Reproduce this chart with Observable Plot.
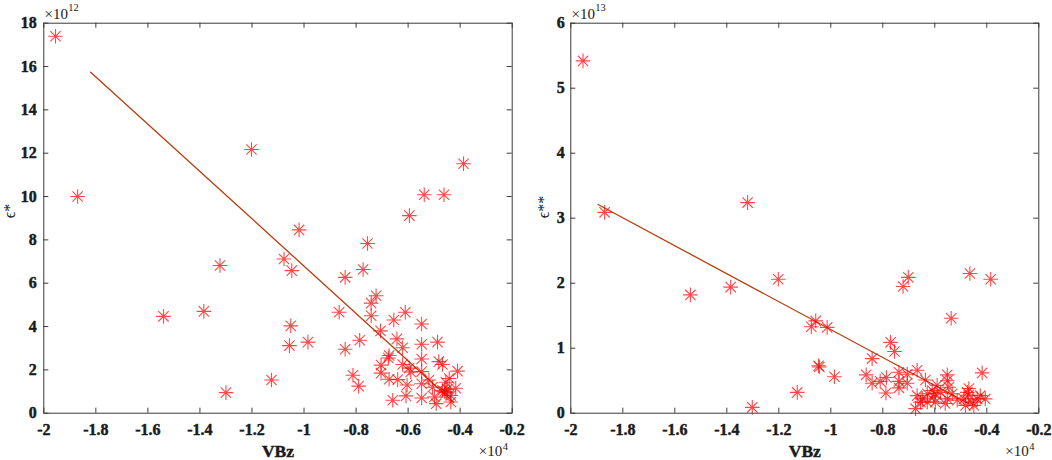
<!DOCTYPE html>
<html>
<head>
<meta charset="utf-8">
<script src="https://cdn.jsdelivr.net/npm/d3@7"></script>
<script src="https://cdn.jsdelivr.net/npm/@observablehq/plot@0.6"></script>
<style>
  html, body { margin: 0; padding: 0; background: #fff; }
  #wrap { display: flex; width: 1052px; height: 460px; }
</style>
</head>
<body>
<div id="wrap"></div>
<script>
// ---- data (VBz in units of 1e4, epsilon in units of 1e12 / 1e13) ----
const xTicks = [-2, -1.8, -1.6, -1.4, -1.2, -1, -0.8, -0.6, -0.4, -0.2];
const xTickLabels = ["-2", "-1.8", "-1.6", "-1.4", "-1.2", "-1", "-0.8", "-0.6", "-0.4", "-0.2"];
const leftYTicks = [0, 2, 4, 6, 8, 10, 12, 14, 16, 18];
const rightYTicks = [0, 1, 2, 3, 4, 5, 6];

const leftVBz = [-1.955,-1.870,-1.540,-1.385,-1.323,-1.300,-1.202,-1.125,-1.077,-1.047,-1.051,-1.056,-1.019,-0.985,-0.865,-0.842,-0.842,-0.812,-0.790,-0.786,-0.773,-0.756,-0.742,-0.742,-0.723,-0.706,-0.704,-0.704,-0.673,-0.676,-0.673,-0.655,-0.659,-0.643,-0.640,-0.621,-0.621,-0.611,-0.608,-0.604,-0.596,-0.590,-0.548,-0.548,-0.548,-0.548,-0.548,-0.548,-0.520,-0.506,-0.499,-0.492,-0.487,-0.482,-0.468,-0.468,-0.460,-0.455,-0.455,-0.450,-0.442,-0.436,-0.436,-0.417,-0.410,-0.595,-0.538,-0.462,-0.387];
const leftEps = [17.40,10.00,4.47,4.70,6.82,0.95,12.17,1.53,7.12,6.58,4.03,3.12,8.46,3.28,4.66,6.27,2.95,1.75,1.25,3.37,6.63,7.83,5.08,4.50,5.42,3.80,2.22,1.85,2.66,2.55,1.57,4.30,0.60,3.43,1.55,3.02,2.25,4.66,0.80,1.30,2.08,1.90,4.12,3.18,2.50,1.92,1.36,0.70,1.53,1.20,0.75,0.44,3.28,2.38,2.25,1.05,1.00,0.95,1.43,1.10,1.60,0.82,0.52,1.15,1.94,9.12,10.08,10.08,11.51];
const leftFitVBz = [-1.820, -0.425];
const leftFitEps = [15.74, 0.51];

const rightVBz = [-1.953,-1.870,-1.540,-1.385,-1.320,-1.302,-1.202,-1.129,-1.075,-1.058,-1.047,-1.044,-1.014,-0.986,-0.864,-0.841,-0.841,-0.810,-0.786,-0.788,-0.770,-0.755,-0.738,-0.738,-0.738,-0.722,-0.702,-0.706,-0.706,-0.668,-0.668,-0.674,-0.648,-0.636,-0.629,-0.629,-0.655,-0.610,-0.604,-0.598,-0.591,-0.578,-0.600,-0.552,-0.552,-0.546,-0.552,-0.560,-0.537,-0.533,-0.514,-0.488,-0.475,-0.469,-0.470,-0.482,-0.465,-0.456,-0.450,-0.437,-0.425,-0.418,-0.406,-0.385];
const rightEps = [5.42,3.09,1.82,1.94,3.24,0.09,2.06,0.32,1.33,1.42,0.73,0.71,1.32,0.56,0.59,0.84,0.46,0.49,0.55,0.31,1.09,0.95,0.63,0.49,0.39,1.95,2.09,0.60,0.46,0.66,0.27,0.07,0.22,0.51,0.30,0.17,0.17,0.35,0.25,0.17,0.43,0.32,0.30,0.59,0.50,0.40,0.22,0.15,1.46,0.30,0.20,0.22,0.32,0.38,0.28,0.12,2.15,0.17,0.12,0.22,0.27,0.62,0.22,2.06];
const rightFitVBz = [-1.895, -0.469];
const rightFitEps = [3.21, 0.145];

// ---- custom MATLAB-like asterisk marker ----
const asterisk = {
  draw(ctx, size) {
    const r = Math.sqrt(size / Math.PI);
    const d = r * Math.SQRT1_2;
    ctx.moveTo(-r, 0); ctx.lineTo(r, 0);
    ctx.moveTo(0, -r); ctx.lineTo(0, r);
    ctx.moveTo(-d, -d); ctx.lineTo(d, d);
    ctx.moveTo(-d, d); ctx.lineTo(d, -d);
  }
};

const serif = "'Liberation Serif', 'Times New Roman', 'DejaVu Serif', serif";
const axisColor = "#3a3a3a";
const textColor = "#1a1a1a";
const heavy = {fontWeight: "bold", fill: textColor, stroke: textColor, strokeWidth: 0.45};

function panel(cfg) {
  const W = cfg.width, H = 460;
  const mt = 22.7, mb = 47.3;
  const innerW = W - cfg.ml - cfg.mr, innerH = H - mt - mb;
  const pts = cfg.xs.map((x, i) => ({x, y: cfg.ys[i]}));
  const fit = cfg.fx.map((x, i) => ({x, y: cfg.fy[i]}));
  return Plot.plot({
    width: W, height: H,
    marginLeft: cfg.ml, marginRight: cfg.mr, marginTop: mt, marginBottom: mb,
    style: {fontFamily: serif, fontSize: "16px", background: "#fff", overflow: "visible", color: textColor},
    x: {domain: [-2, -0.2], axis: null},
    y: {domain: cfg.ydomain, axis: null},
    marks: [
      // tick labels
      Plot.text(xTicks, {x: d => d, text: (d, i) => xTickLabels[i], frameAnchor: "bottom", lineAnchor: "top", dy: 10.2,
        fontSize: 16, ...heavy}),
      Plot.text(cfg.yticks, {y: d => d, text: d => String(d), frameAnchor: "left", textAnchor: "end", dx: -cfg.ypad,
        fontSize: 16, ...heavy}),
      Plot.line(fit, {x: "x", y: "y", stroke: "#b93c0c", strokeWidth: 1.3}),
      Plot.dot(pts, {x: "x", y: "y", r: 7.3, symbol: asterisk, fill: "none", stroke: "#ff0000", strokeWidth: 1.1, strokeOpacity: 0.72}),
      Plot.frame({stroke: axisColor, strokeWidth: 1}),
      Plot.tickX(xTicks, {x: d => d, insetTop: innerH - 5, stroke: axisColor}),
      Plot.tickX(xTicks, {x: d => d, insetBottom: innerH - 5, stroke: axisColor}),
      Plot.tickY(cfg.yticks, {y: d => d, insetRight: innerW - 5, stroke: axisColor}),
      Plot.tickY(cfg.yticks, {y: d => d, insetLeft: innerW - 5, stroke: axisColor}),
      // x label
      Plot.text(["VBz"], {text: d => d, frameAnchor: "bottom", lineAnchor: "bottom", dy: 43.5, fontSize: 17.5, ...heavy}),
      // y label
      Plot.text([cfg.ylabel], {text: d => d, frameAnchor: "left", rotate: -90, dx: cfg.ylabelDx, fontSize: 16, fill: textColor}),
      // exponent top-left
      Plot.text(["\u00d710"], {text: d => d, frameAnchor: "top-left", textAnchor: "start", lineAnchor: "bottom", dx: 0.7, dy: -4.5, fontSize: 15, fill: textColor}),
      Plot.text([cfg.yexp], {text: d => d, frameAnchor: "top-left", textAnchor: "start", lineAnchor: "bottom", dx: 24.5, dy: -12.5, fontSize: 10.5, fill: textColor}),
      // exponent bottom-right
      Plot.text(["\u00d710"], {text: d => d, frameAnchor: "bottom-right", textAnchor: "start", lineAnchor: "bottom", dx: -33.5, dy: 42.5, fontSize: 15, fill: textColor}),
      Plot.text(["4"], {text: d => d, frameAnchor: "bottom-right", textAnchor: "start", lineAnchor: "bottom", dx: -9.5, dy: 37, fontSize: 10.5, fill: textColor})
    ]
  });
}

const wrap = document.getElementById("wrap");
wrap.appendChild(panel({
  width: 526, ml: 43.3, mr: 14.3, xs: leftVBz, ys: leftEps, fx: leftFitVBz, fy: leftFitEps,
  ydomain: [0, 18], yticks: leftYTicks, ypad: 7, ylabel: "\u03f5*", ylabelDx: -34, yexp: "12"
}));
wrap.appendChild(panel({
  width: 526, ml: 44.3, mr: 13.7, xs: rightVBz, ys: rightEps, fx: rightFitVBz, fy: rightFitEps,
  ydomain: [0, 6], yticks: rightYTicks, ypad: 6, ylabel: "\u03f5**", ylabelDx: -27, yexp: "13"
}));
</script>
</body>
</html>
